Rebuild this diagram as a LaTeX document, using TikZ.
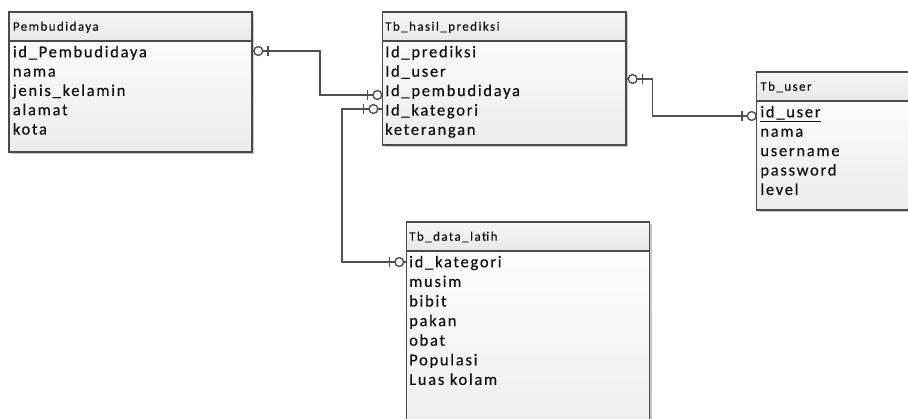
\documentclass[tikz,border=0pt]{standalone}
\usepackage{fontspec}
\setmainfont{Carlito}
\newfontfamily\hdrfont[LetterSpace=11,FakeBold=0.2]{Carlito}
\newfontfamily\rowfont[LetterSpace=10.5,FakeBold=0.4]{Carlito}
\usetikzlibrary{shadows}
\definecolor{edge}{HTML}{4A4A4A}
\definecolor{wire}{HTML}{505050}
\definecolor{bodybot}{HTML}{ECECEC}
\definecolor{hdrtop}{HTML}{F6F6F6}
\definecolor{hdrbot}{HTML}{E8E8E8}
\definecolor{ink}{HTML}{111111}
\begin{document}
\begin{tikzpicture}[x=1pt,y=-1pt,
  tbl/.style={rectangle, draw=edge, line width=1.3pt, anchor=north west,
    inner sep=0pt, outer sep=0pt, top color=white, bottom color=bodybot,
    drop shadow={shadow xshift=2.2pt, shadow yshift=-2.2pt, fill=black!22, opacity=1}},
  hdr/.style={draw=edge, line width=1.3pt, top color=hdrtop, bottom color=hdrbot},
  title/.style={anchor=base west, inner sep=0pt, font=\hdrfont\fontsize{13}{15}\selectfont, text=ink},
  row/.style={anchor=base west, inner sep=0pt, font=\rowfont\fontsize{16.5}{19}\selectfont, text=ink},
  conn/.style={draw=wire, line width=1.4pt},
  zo/.pic={
    \draw[conn, fill=white] (#1,0) circle (4.4);
    \draw[conn] ({#1+9.8},-4.6) -- ({#1+9.8},4.6);
  }]
\useasboundingbox (0,0) rectangle (908,418);
\clip (0,0) rectangle (908,418);

% entity boxes
\node[tbl, minimum width=243pt, minimum height=140pt] (pemb) at (9,12) {};
\node[tbl, minimum width=243.3pt, minimum height=133pt] (hasil) at (382.7,12) {};
\node[tbl, minimum width=200pt, minimum height=138pt] (user) at (756.7,72) {};
\node[tbl, minimum width=242.6pt, minimum height=240pt] (latih) at (406.7,222) {};

% header bands
\foreach \t in {pemb,hasil,user,latih}
  \path[hdr] (\t.north west) rectangle ([yshift=-29pt]\t.north east);

% titles
\node[title] (pembT) at (12.7,30.7) {Pembudidaya};
\node[title] (hasilT) at (385,30.7) {Tb\_hasil\_prediksi};
\node[title] (userT) at (760.2,90.7) {Tb\_user};
\node[title] (latihT) at (409,240.7) {Tb\_data\_latih};

% attributes
\foreach \a [count=\i from 0] in {id\_Pembudidaya,nama,jenis\_kelamin,alamat,kota}
  \node[row] (p\i) at (12.7,57.3+19.3*\i) {\a};
\foreach \a [count=\i from 0] in {Id\_prediksi,Id\_user,Id\_pembudidaya,Id\_kategori,keterangan}
  \node[row] (h\i) at (385,57.3+19.4*\i) {\a};
\node[row] (u0) at (760.2,117.3) {\underline{id\_user}};
\foreach \a [count=\i from 1] in {nama,username,password,level}
  \node[row] (u\i) at (760.2,117.3+19.4*\i) {\a};
\foreach \a [count=\i from 0] in {id\_kategori,musim,bibit,pakan,obat,Populasi,Luas kolam}
  \node[row] (d\i) at (409,267.3+19.6*\i) {\a};

% relationships
\draw[conn] (pemb.east |- 0,51) -| (320,95) -- (hasil.west |- 0,95);
\draw[conn] (latih.west |- 0,262) -| (342,109) -- (hasil.west |- 0,109);
\draw[conn] (hasil.east |- 0,79) -| (652.7,116) -- (user.west |- 0,116);

% zero-or-one ends
\path (pemb.east |- 0,51) pic {zo=6.3};
\path (hasil.west |- 0,95) pic[rotate=180] {zo=5.3};
\path (hasil.west |- 0,109) pic[rotate=180] {zo=9.3};
\path (latih.west |- 0,262) pic[rotate=180] {zo=7.4};
\path (hasil.east |- 0,79) pic {zo=6.7};
\path (user.west |- 0,116) pic[rotate=180] {zo=5};
\end{tikzpicture}
\end{document}
